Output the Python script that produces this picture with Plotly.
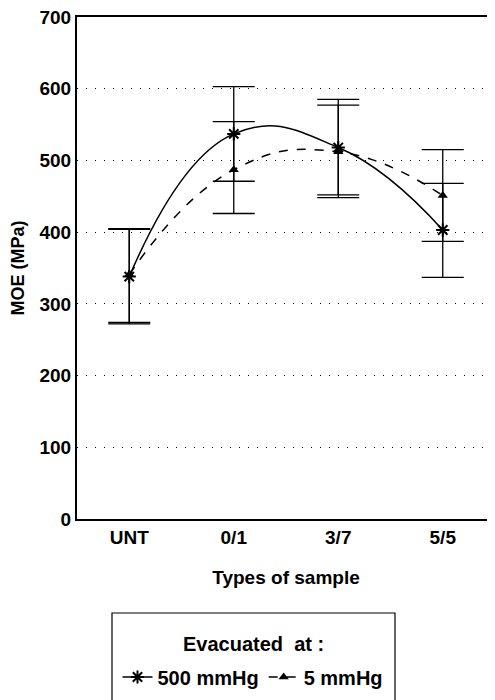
import plotly.graph_objects as go

# sample types along the x axis
samples = ['UNT', '0/1', '3/7', '5/5']
x_pos = [0, 1, 2, 3]

# MOE (MPa), evacuated at 500 mmHg
moe_500 = [338, 537, 518, 403]
err_500_up = [66, 66, 67, 65]
err_500_dn = [66, 66, 66, 66]

# MOE (MPa), evacuated at 5 mmHg
moe_5 = [341, 487, 512, 451]
err_5_up = [64, 67, 65, 64]
err_5_dn = [67, 61, 64, 64]

y_ticks = [0, 100, 200, 300, 400, 500, 600, 700]

FONT = 'Liberation Sans'

fig = go.Figure()

fig.add_trace(go.Scatter(
    x=x_pos, y=moe_500, name='500 mmHg',
    mode='lines+markers',
    line=dict(color='black', width=1.5, shape='spline', smoothing=1.3),
    marker=dict(symbol='asterisk', size=11, color='black',
                line=dict(color='black', width=2)),
    error_y=dict(type='data', symmetric=False, array=err_500_up,
                 arrayminus=err_500_dn, color='black', thickness=1.3, width=21),
))

fig.add_trace(go.Scatter(
    x=x_pos, y=moe_5, name='5 mmHg',
    mode='lines+markers',
    line=dict(color='black', width=1.5, dash='dash', shape='spline', smoothing=1.3),
    marker=dict(symbol='triangle-up', size=9, color='black'),
    error_y=dict(type='data', symmetric=False, array=err_5_up,
                 arrayminus=err_5_dn, color='black', thickness=1.3, width=21),
))

# page body has an 8px margin, so the plot box is set 8px up/left
# plot area on screen: x 77..495, y 17..519
# legend frame (runs off the bottom of the picture like the original)
fig.add_shape(type='rect', xref='paper', yref='paper',
              x0=(112 - 77) / 418, x1=(395 - 77) / 418,
              y0=(519 - 720) / 502, y1=(519 - 613) / 502,
              line=dict(color='black', width=1.2), fillcolor='rgba(0,0,0,0)')

# legend heading
fig.add_annotation(text='<b>Evacuated  at :</b>', xref='paper', yref='paper',
                   x=(253 - 77) / 418, y=(519 - 644) / 502, yanchor='middle',
                   showarrow=False, font=dict(size=20))

fig.update_layout(
    width=495, height=700,
    margin=dict(l=69, r=8, t=9, b=189, autoexpand=False),
    plot_bgcolor='white', paper_bgcolor='white',
    font=dict(family=FONT, size=19, color='black'),
    showlegend=True,
    legend=dict(
        orientation='h', x=(253 - 77) / 418, xanchor='center',
        y=(519 - 677) / 502, yanchor='middle',
        font=dict(size=20, family=FONT, weight='bold'),
        bgcolor='rgba(0,0,0,0)', borderwidth=0,
        itemwidth=30, tracegroupgap=0,
    ),
    xaxis=dict(
        range=[-0.5, 3.5], tickvals=x_pos, ticktext=samples,
        showgrid=False, zeroline=False, automargin=False,
        showline=True, linecolor='black', linewidth=2, mirror=True,
        ticks='', tickfont=dict(size=19, weight='bold'),
        title=dict(text='<b>Types of sample</b>', standoff=24,
                   font=dict(size=19)),
    ),
    yaxis=dict(
        range=[0, 700], tickvals=y_ticks, automargin=False,
        ticklabeloverflow='allow',
        showgrid=True, gridcolor='black', gridwidth=1, griddash='1px,8px',
        zeroline=False,
        showline=True, linecolor='black', linewidth=2,
        ticks='', tickfont=dict(size=19, weight='bold'),
        title=dict(text='<b>MOE (MPa)</b>', standoff=10, font=dict(size=18)),
    ),
)

fig.write_html('out.html')
